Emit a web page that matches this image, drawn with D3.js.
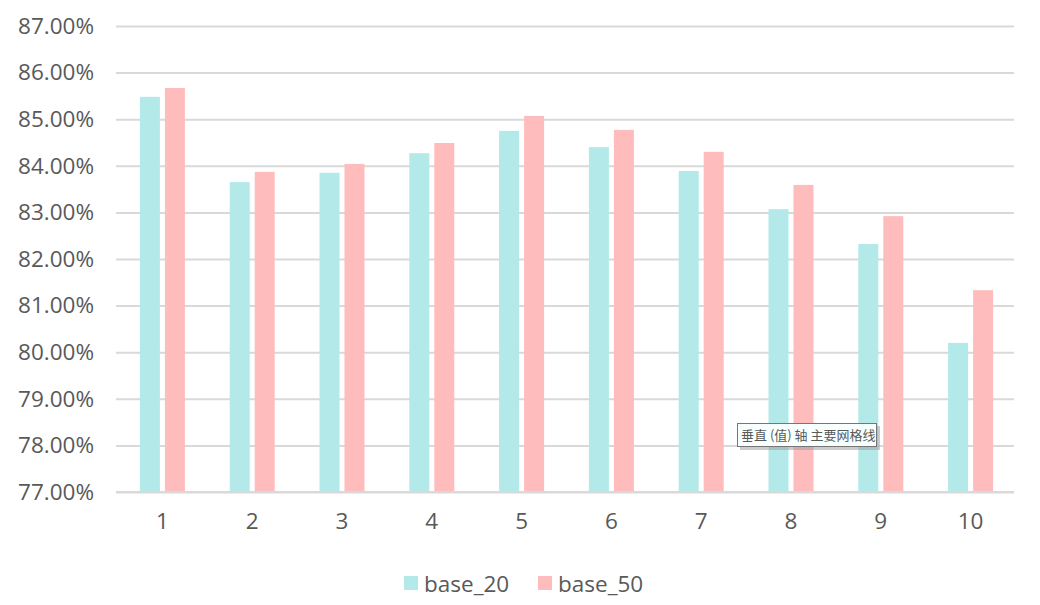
<!DOCTYPE html>
<html><head><meta charset="utf-8">
<script src="https://cdn.jsdelivr.net/npm/d3@7"></script>
<style>body{margin:0;background:#fff}svg{display:block}text{font-family:"Open Sans","Noto Sans",sans-serif}</style>
</head><body>
<script>
const categories = ["1","2","3","4","5","6","7","8","9","10"];
const seriesNames = ["base_20","base_50"];
const base20 = [85.48,83.65,83.85,84.27,84.75,84.40,83.89,83.07,82.32,80.20];
const base50 = [85.67,83.87,84.04,84.49,85.07,84.77,84.30,83.59,82.92,81.33];
const yTicks = [77,78,79,80,81,82,83,84,85,86,87];
const colors = ["#b3e9e9","#ffbcbc"];

const W=1040,H=605;
const svg=d3.select("body").append("svg").attr("width",W).attr("height",H);
const m={l:116,r:1014,t:26,b:492};
const x=d3.scaleBand().domain(categories).range([m.l+1.5,m.r+1.5]);
const y=d3.scaleLinear().domain([77,87]).range([m.b,m.t]);
const x1=d3.scaleBand().domain(seriesNames).range([0,45]).paddingInner(0.2);
const FS="22.5px";

// grid
const yAxis=d3.axisLeft(y).tickValues(yTicks).tickSize(-(m.r-m.l)).tickPadding(22).tickFormat(d=>d.toFixed(2)+"%");
const gy=svg.append("g").attr("transform",`translate(${m.l},0)`).call(yAxis);
gy.select(".domain").remove();
gy.selectAll(".tick line").attr("stroke","#d9d9d9").attr("stroke-width",2);
gy.selectAll(".tick text").attr("fill","#595959").style("font-size",FS);

const data=[base20,base50];
seriesNames.forEach((s,si)=>{
  svg.append("g").selectAll("rect").data(categories).join("rect")
    .attr("x",c=>x(c)+x.bandwidth()/2-22.5+x1(s))
    .attr("width",x1.bandwidth())
    .attr("y",(c,i)=>y(data[si][i]))
    .attr("height",(c,i)=>y(77)-y(data[si][i]))
    .attr("fill",colors[si]);
});

// x axis
const xAxis=d3.axisBottom(x).tickSize(0).tickPadding(21);
const gx=svg.append("g").attr("transform",`translate(0,${m.b})`).call(xAxis);
gx.select(".domain").attr("d",`M${m.l},0H${m.r}`).attr("stroke","#d9d9d9").attr("stroke-width",2);
gx.selectAll(".tick text").attr("fill","#595959").style("font-size",FS);

// legend
const leg=[{x:404,tx:424},{x:538,tx:558}];
seriesNames.forEach((s,i)=>{
  svg.append("rect").attr("x",leg[i].x).attr("y",576).attr("width",14).attr("height",14).attr("fill",colors[i]);
  svg.append("text").attr("x",leg[i].tx).attr("y",592).attr("fill","#595959").style("font-size",FS).text(s);
});

// tooltip
const tg=svg.append("g");
tg.append("rect").attr("x",740).attr("y",426).attr("width",140).attr("height",24).attr("fill","#999").attr("opacity",0.5);
tg.append("rect").attr("x",737.5).attr("y",423.5).attr("width",139).attr("height",23).attr("fill","#f8ffff").attr("stroke","#767676");
tg.append("text").attr("x",741).attr("y",440).attr("fill","#595959").style("font-size","13px").style("font-family","'Noto Sans CJK SC',sans-serif").text("垂直 (值) 轴 主要网格线");
</script>
</body></html>
